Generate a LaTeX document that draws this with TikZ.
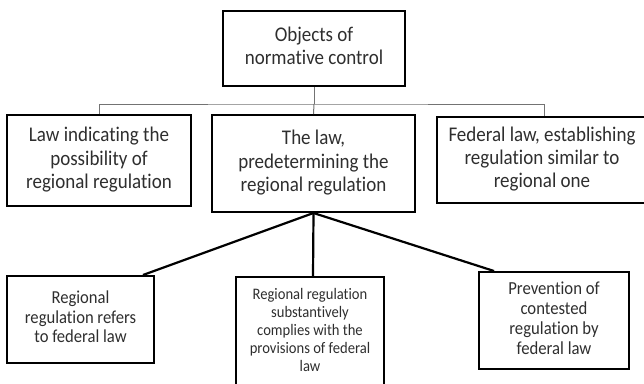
\documentclass[tikz,border=0pt]{standalone}
\usepackage{fontspec}
\usepackage{graphicx}
\setmainfont{Carlito}[Ligatures=NoCommon]
\newcommand{\tallt}[1]{\scalebox{1}[1.1]{\begin{tabular}{@{}c@{}}#1\end{tabular}}}
\begin{document}
\begin{tikzpicture}[x=1pt,y=-1pt,
  box/.style={draw=black,line width=2pt,align=center,inner sep=0pt,text=black!82},
  big/.style={font={\fontsize{19}{21.2}\selectfont}},
  thinline/.style={draw=black!55,line width=1pt},
  thickline/.style={draw=black,line width=2.2pt}]
\useasboundingbox (0,0) rectangle (644,383);
\clip (0,0) rectangle (644,383);
\node[box,big,minimum width=182pt,minimum height=75pt] (top) at (314,48.5) {\tallt{Objects of\\normative control}};
\node[box,big,minimum width=184pt,minimum height=91pt] (left) at (99,160.5) {\tallt{Law indicating the\\possibility of\\regional regulation}};
\node[box,big,minimum width=203pt,minimum height=97pt] (mid) at (313.5,163.5) {\tallt{The law,\\predetermining the\\regional regulation}};
\node[box,big,minimum width=214pt,minimum height=86pt] (right) at (544,160) {\hspace*{-4pt}\tallt{Federal law, establishing\\regulation similar to\\regional one}};
\node[box,font={\fontsize{16.6}{17.7}\selectfont},minimum width=147pt,minimum height=87pt] (bl) at (80.5,319.5) {\tallt{Regional\\regulation refers\\to federal law}};
\node[box,font={\fontsize{14.6}{16.4}\selectfont},minimum width=148pt,minimum height=109pt] (bm) at (310,331.5) {\tallt{Regional regulation\\substantively\\complies with the\\provisions of federal\\law}};
\node[box,font={\fontsize{16.7}{18.2}\selectfont},minimum width=150pt,minimum height=97pt] (br) at (554,320.5) {\tallt{Prevention of\\contested\\regulation by\\federal law}};
% upper connectors
\draw[thinline] (top.south) -- ++(0,17) coordinate (j);
\draw[thinline] (left.north) |- (j) -| (right.north);
\draw[thinline] (j) -- (mid.north);
% lower connectors
\draw[thickline] (mid.south) -- ([xshift=-12pt]bl.north east);
\draw[thickline] (mid.south) -- ([xshift=3pt]bm.north);
\draw[thickline] (mid.south) -- ([xshift=16pt]br.north west);
\end{tikzpicture}
\end{document}
